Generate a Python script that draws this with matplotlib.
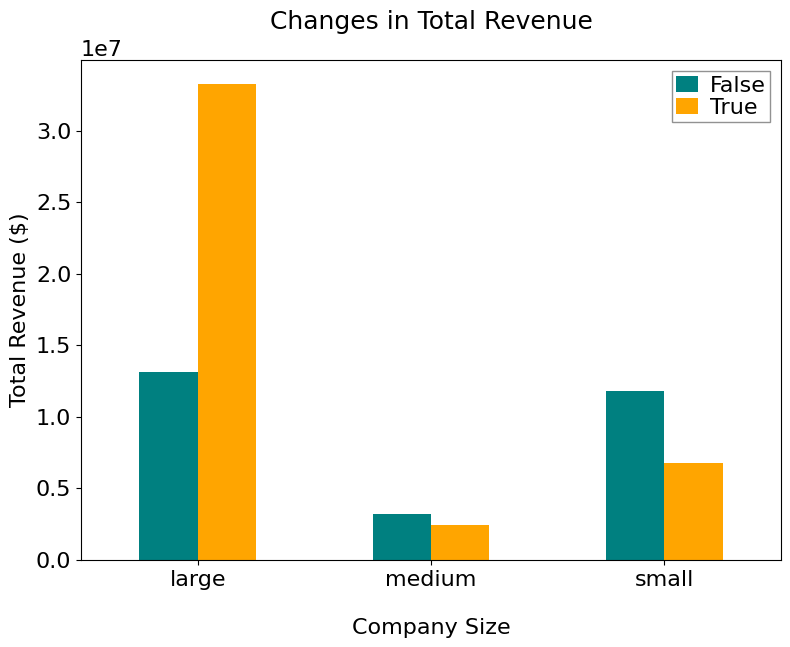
import matplotlib
matplotlib.use("Agg")
import matplotlib.pyplot as plt
import numpy as np
import pandas as pd

sizes = ["large", "medium", "small"]
revenue_false = [1.312e7, 0.321e7, 1.179e7]
revenue_true = [3.329e7, 0.244e7, 0.677e7]

df = pd.DataFrame({False: revenue_false, True: revenue_true}, index=sizes)

plt.rcParams["font.size"] = 16

fig = plt.figure(figsize=(7.9, 6.47), dpi=100)
ax = fig.add_axes([81 / 790, 1 - 560 / 647, 700 / 790, 500 / 647])
df.plot(kind="bar", ax=ax, color=["teal", "orange"], rot=0)

ax.set_title("Changes in Total Revenue", pad=22, fontsize=18)
ax.set_xlabel("Company Size", labelpad=20)
ax.set_ylabel("Total Revenue ($)")
ax.legend(loc="upper right", fancybox=False, edgecolor="#777777",
          borderpad=0.2, handlelength=1.0, handleheight=0.7,
          handletextpad=0.5, labelspacing=0.1)

fig.savefig("out.png", dpi=100)
